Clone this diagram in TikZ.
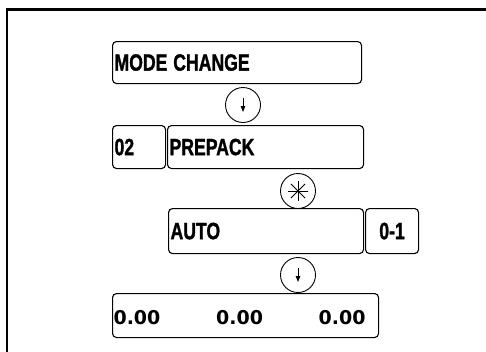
\documentclass[tikz,border=0pt]{standalone}
\usepackage{fontspec}
\usepackage{graphicx}
\newfontfamily\condb{Liberation Sans}[UprightFont={* Bold}, FakeBold=1.5]
\newfontfamily\numb{DejaVu Sans}[UprightFont={* Bold}]
\newcommand\cnd[1]{\scalebox{0.75}[1]{#1}}
\usetikzlibrary{arrows.meta}
\begin{document}
\begin{tikzpicture}[x=1pt,y=-1pt,
  box/.style={draw, line width=1.1pt, rounded corners=4pt, inner xsep=2pt, inner ysep=0pt,
    align=left, font=\condb\fontsize{23.5}{23.5}\selectfont},
  numbox/.style={draw, line width=1.1pt, rounded corners=4pt, inner xsep=1pt, inner ysep=0pt,
    align=left, font=\numb\fontsize{19}{19}\selectfont},
  sym/.style={draw, circle, line width=0.9pt, minimum size=35pt, inner sep=0pt},
  darr/.style={line width=1pt, -{Triangle[length=6pt,width=4.5pt]}},
  frame/.style={line width=2.2pt}
]
\useasboundingbox (0,0) rectangle (486,351);
% open frame
\coordinate (ftr) at (487,9.5);
\coordinate (ftl) at (7,9.5);
\coordinate (fbl) at (7,352);
\draw[frame] (ftr) -- (ftl) -- (fbl);

% boxes
\node[box, anchor=north west, minimum width=249pt, minimum height=42pt, text width=245pt]
  (mode) at (112,41) {\cnd{MODE CHANGE}};
\node[box, anchor=north west, minimum width=53pt, minimum height=43pt, text width=49pt]
  (num) at (112,125) {\cnd{02}};
\node[box, anchor=north west, minimum width=196pt, minimum height=43pt, text width=192pt]
  (prepack) at (167,125) {\cnd{PREPACK}};
\node[box, anchor=north west, minimum width=195pt, minimum height=45pt, text width=191pt]
  (auto) at (168,208) {\cnd{AUTO}};
\node[box, anchor=north west, minimum width=53pt, minimum height=45pt, text width=53pt, inner xsep=0pt, align=center]
  (range) at (365,208) {\cnd{0-1}};
\node[numbox, anchor=north west, minimum width=266pt, minimum height=44pt, text width=264pt, text depth=0pt]
  (vals) at (112,293) {\raisebox{-4pt}{\makebox[252pt][s]{0.00\hfill0.00\hfill0.00}}};

% symbols
\node[sym] (c1) at (243,105) {};
\draw[darr] ([yshift=7pt]c1.center) -- ([yshift=-7pt]c1.center);
\node[sym] (s1) at (298,191) {};
\foreach \a in {0,45,90,135}{
  \draw[line width=0.8pt] ([shift={(\a:10pt)}]s1.center) -- ([shift={(\a+180:10pt)}]s1.center);
}
\node[sym] (c2) at (298,275) {};
\draw[darr] ([yshift=7pt]c2.center) -- ([yshift=-7pt]c2.center);
\end{tikzpicture}
\end{document}
